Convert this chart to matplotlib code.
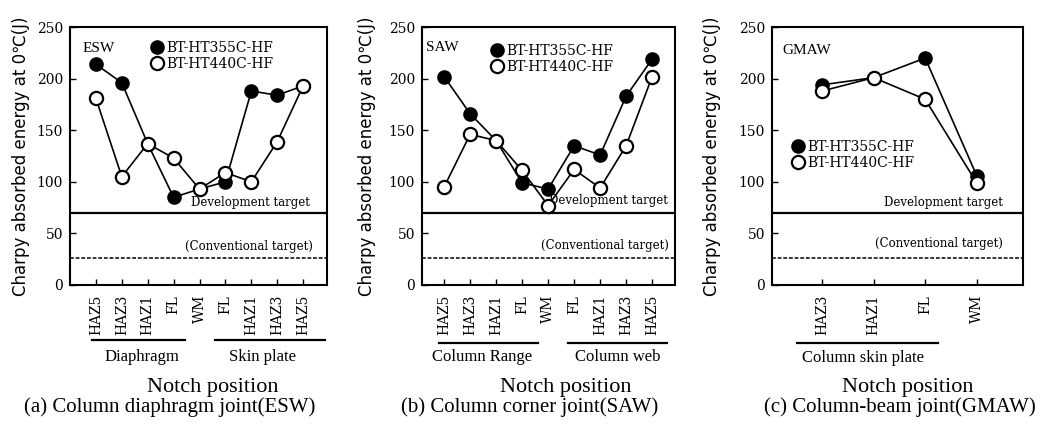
import matplotlib
matplotlib.use('Agg')
import matplotlib.pyplot as plt
import matplotlib.transforms as mtransforms
import numpy as np

# Notch positions for each joint
pos_esw = ['HAZ5', 'HAZ3', 'HAZ1', 'FL', 'WM', 'FL', 'HAZ1', 'HAZ3', 'HAZ5']
pos_saw = ['HAZ5', 'HAZ3', 'HAZ1', 'FL', 'WM', 'FL', 'HAZ1', 'HAZ3', 'HAZ5']
pos_gmaw = ['HAZ3', 'HAZ1', 'FL', 'WM']

# Charpy absorbed energy at 0C (J)
esw_355 = [214, 196, 137, 85, 93, 100, 188, 184, 193]
esw_440 = [181, 105, 137, 123, 93, 109, 100, 139, 193]
saw_355 = [202, 166, 140, 99, 93, 135, 126, 183, 219]
saw_440 = [95, 146, 140, 111, 77, 112, 94, 135, 202]
gmaw_355 = [194, 201, 220, 106]
gmaw_440 = [188, 201, 180, 99]

dev_target = 70
conv_target = 26

series_names = ['BT-HT355C-HF', 'BT-HT440C-HF']
weld_names = ['ESW', 'SAW', 'GMAW']
captions = ['(a) Column diaphragm joint(ESW)', '(b) Column corner joint(SAW)',
            '(c) Column-beam joint(GMAW)']

SERIF = 'DejaVu Serif'
LSERIF = 'Liberation Serif'

fig = plt.figure(figsize=(10.49, 4.32), dpi=100)

# axes rectangles (fig fraction)
rects = [[0.0667, 0.3403, 0.245, 0.597],
         [0.4023, 0.3403, 0.2412, 0.597],
         [0.7360, 0.3403, 0.2393, 0.597]]
xlims = [(-1.0, 8.92), (-0.85, 8.88), (-0.97, 3.9)]
panels = [(pos_esw, esw_355, esw_440), (pos_saw, saw_355, saw_440),
          (pos_gmaw, gmaw_355, gmaw_440)]

# layout for annotations
groups = [[('Diaphragm', -0.15, 3.44, 1.78), ('Skin plate', 4.59, 8.84, 6.45)],
          [('Column Range', -0.19, 3.62, 1.46), ('Column web', 4.77, 8.58, 6.69)],
          [('Column skin plate', -0.48, 2.24, 0.8)]]
group_y = [(-0.213, -0.279), (-0.225, -0.28), (-0.225, -0.283)]
weld_xy = [(0.047, 229), (0.016, 230), (0.04, 227)]
legend_xy = [(0.339, 0.887), (0.296, 0.878), (0.104, 0.504)]
dev_txt = [(0.934, 80), (0.972, 82), (0.92, 80)]
conv_txt = [(0.946, 37), (0.976, 38), (0.92, 40)]
ylab_x = [-0.19, -0.217, -0.24]
notch_x = [0.203, 0.539, 0.865]
cap_x = [0.162, 0.505, 0.858]

for i, (labels, v355, v440) in enumerate(panels):
    ax = fig.add_axes(rects[i])
    x = np.arange(len(labels))
    l1, = ax.plot(x, v355, '-o', color='black', lw=1.2, markersize=9.5,
                  markerfacecolor='black', markeredgecolor='black', zorder=3)
    l2, = ax.plot(x, v440, '-o', color='black', lw=1.2, markersize=9.5,
                  markerfacecolor='white', markeredgecolor='black',
                  markeredgewidth=1.6, zorder=4)
    ax.axhline(dev_target, color='black', lw=1.6)
    ax.axhline(conv_target, color='black', lw=1.1, ls=(0, (2.5, 1.2)))

    ax.set_xlim(*xlims[i])
    ax.set_ylim(0, 250)
    ax.set_yticks([0, 50, 100, 150, 200, 250])
    ax.set_xticks(x)
    ax.set_xticklabels(labels, rotation=90, family=SERIF, fontsize=10)
    for t in ax.get_yticklabels():
        t.set_family(SERIF)
        t.set_fontsize(10)
    ax.tick_params(direction='in', length=4, width=1, pad=5)
    ax.tick_params(axis='x', pad=7)
    for s in ax.spines.values():
        s.set_linewidth(1.5)

    ax.text(ylab_x[i], 0.5, 'Charpy absorbed energy at 0\u2103(J)', rotation=90,
            transform=ax.transAxes, ha='center', va='center',
            family='DejaVu Sans', fontsize=12)

    trans = mtransforms.blended_transform_factory(ax.transAxes, ax.transData)
    ax.text(weld_xy[i][0], weld_xy[i][1], weld_names[i], transform=trans,
            ha='left', va='center', family=LSERIF, fontsize=11)
    ax.text(dev_txt[i][0], dev_txt[i][1], 'Development target', transform=trans,
            ha='right', va='center', family=SERIF, fontsize=8.5)
    ax.text(conv_txt[i][0], conv_txt[i][1], '(Conventional target)', transform=trans,
            ha='right', va='center', family=SERIF, fontsize=8.5)

    ax.legend([l1, l2], series_names, loc='center left',
              bbox_to_anchor=legend_xy[i], frameon=False, handlelength=0,
              handletextpad=0.65, borderpad=0, borderaxespad=0,
              labelspacing=0.15, prop={'family': SERIF, 'size': 10})

    gtrans = mtransforms.blended_transform_factory(ax.transData, ax.transAxes)
    ly, ty = group_y[i]
    for name, x0, x1, xc in groups[i]:
        ax.plot([x0, x1], [ly, ly], color='black', lw=1.6, transform=gtrans,
                clip_on=False)
        ax.text(xc, ty, name, transform=gtrans, ha='center', va='center',
                family=LSERIF, fontsize=12)

    fig.text(notch_x[i], 0.102, 'Notch position', ha='center', va='center',
             family=LSERIF, fontsize=16)
    fig.text(cap_x[i], 0.058, captions[i], ha='center', va='center',
             family=LSERIF, fontsize=15)

fig.savefig('out.png', dpi=100)
